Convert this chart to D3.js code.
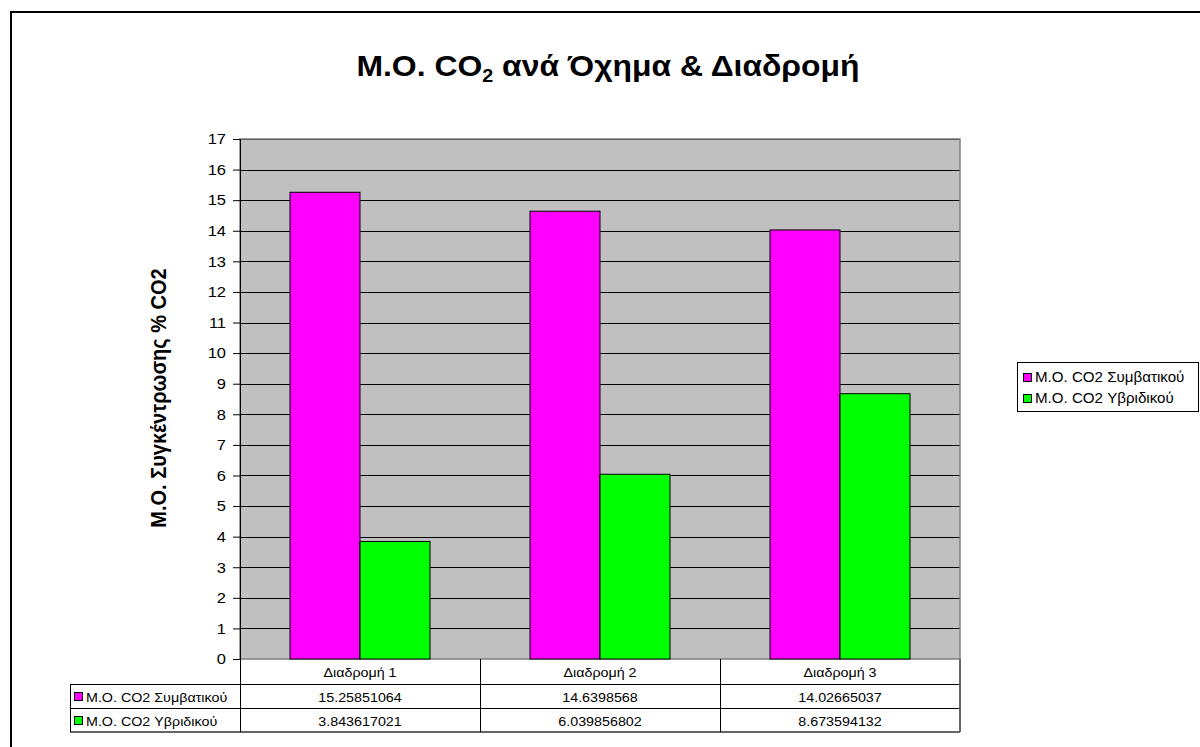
<!DOCTYPE html>
<html>
<head>
<meta charset="utf-8">
<script src="https://cdn.jsdelivr.net/npm/d3@7/dist/d3.min.js"></script>
<style>
html,body{margin:0;padding:0;background:#fff;}
svg{display:block;font-family:"Liberation Sans",Arial,sans-serif;}
</style>
</head>
<body>
<svg id="chart" width="1200" height="747"></svg>
<script>
const categories = ["Διαδρομή 1", "Διαδρομή 2", "Διαδρομή 3"];
const seriesNames = ["Μ.Ο. CO2 Συμβατικού", "Μ.Ο. CO2 Υβριδικού"];
const conventional = [15.25851064, 14.6398568, 14.02665037];
const hybrid = [3.843617021, 6.039856802, 8.673594132];
const conventionalLabels = ["15.25851064", "14.6398568", "14.02665037"];
const hybridLabels = ["3.843617021", "6.039856802", "8.673594132"];
const yTicks = [0,1,2,3,4,5,6,7,8,9,10,11,12,13,14,15,16,17];
const colors = ["#FF00FF", "#00FF00"];

const svg = d3.select("#chart");
const L = 240, R = 960, T = 139, B = 659;
const SX = 1.1; // horizontal text stretch seen in the reference

function stext(g, x, y, txt, size, anchor, bold, sx) {
  return g.append("text").attr("transform", `translate(${x},${y}) scale(${sx||SX},1)`)
    .attr("text-anchor", anchor||"start").attr("font-size", size)
    .attr("font-weight", bold ? "bold" : "normal").attr("fill", "#000").text(txt);
}

// outer chart border
svg.append("rect").attr("x",11).attr("y",12).attr("width",1200).attr("height",800)
  .attr("fill","none").attr("stroke","#000").attr("stroke-width",2);

// title
const title = svg.append("text").attr("transform","translate(608,76) scale(1.1,1)").attr("text-anchor","middle")
  .attr("font-size",29).attr("font-weight","bold").attr("fill","#000");
title.append("tspan").text("Μ.Ο. CO");
title.append("tspan").attr("font-size",18).attr("dy",6).text("2");
title.append("tspan").attr("dy",-6).text(" ανά Όχημα & Διαδρομή");

const x = d3.scaleBand().domain(categories).range([L,R]);
const y = d3.scaleLinear().domain([0,17]).range([B,T]);

// plot background
svg.append("rect").attr("x",L).attr("y",T).attr("width",R-L).attr("height",B-T).attr("fill","#C0C0C0");

// gridlines
svg.append("g").selectAll("line").data(yTicks.filter(d=>d>0)).join("line")
  .attr("x1",L).attr("x2",R).attr("y1",d=>Math.round(y(d))+0.5).attr("y2",d=>Math.round(y(d))+0.5)
  .attr("stroke","#000").attr("stroke-width",1);

// plot border
svg.append("rect").attr("x",L).attr("y",T).attr("width",R-L).attr("height",B-T)
  .attr("fill","none").attr("stroke","#808080").attr("stroke-width",1.5);

// bars
const barW = 70, gap = (x.bandwidth() - 2*barW)/2;
[conventional, hybrid].forEach((vals,si)=>{
  svg.append("g").selectAll("rect").data(vals).join("rect")
    .attr("x",(d,i)=>x(categories[i]) + gap + si*barW)
    .attr("y",d=>y(d)).attr("width",barW).attr("height",d=>y(0)-y(d))
    .attr("fill",colors[si]).attr("stroke","#000").attr("stroke-width",1);
});

// y axis
const yAxis = d3.axisLeft(y).tickValues(yTicks).tickSize(7).tickPadding(6).tickFormat(d3.format("d"));
const ga = svg.append("g").attr("transform",`translate(${L},0)`).call(yAxis);
ga.select(".domain").attr("stroke","#000");
ga.selectAll(".tick line").attr("stroke","#000");
ga.selectAll("text").attr("font-size",15).attr("fill","#000")
  .attr("font-family","Liberation Sans, Arial, sans-serif")
  .attr("x",0).attr("transform","translate(-14,0) scale(1.1,1)");

// y axis title
svg.append("text").attr("transform","translate(166,398) scale(1.1,1) rotate(-90)").attr("text-anchor","middle")
  .attr("font-size",20).attr("font-weight","bold").attr("fill","#000").text("Μ.Ο. Συγκέντρωσης % CO2");

// data table
const rowY = [B, 684, 708, 732];
const tbl = svg.append("g").attr("stroke","#000").attr("stroke-width",1).attr("shape-rendering","crispEdges");
[1,2].forEach(r=>tbl.append("line").attr("x1",70).attr("x2",R).attr("y1",rowY[r]).attr("y2",rowY[r]));
tbl.append("line").attr("x1",70).attr("x2",R).attr("y1",rowY[3]).attr("y2",rowY[3]).attr("stroke","#666").attr("stroke-width",2);
tbl.append("line").attr("x1",70).attr("x2",70).attr("y1",rowY[1]).attr("y2",rowY[3]);
categories.forEach(c=>tbl.append("line").attr("x1",x(c)).attr("x2",x(c)).attr("y1",B).attr("y2",rowY[3]));
tbl.append("line").attr("x1",R).attr("x2",R).attr("y1",B).attr("y2",rowY[3]).attr("stroke","#666").attr("stroke-width",2);

const tg = svg.append("g");
categories.forEach(c=>stext(tg, x(c)+x.bandwidth()/2, 677, c, 13, "middle"));
[conventionalLabels, hybridLabels].forEach((labs,si)=>{
  labs.forEach((d,i)=>stext(tg, x(categories[i])+x.bandwidth()/2, rowY[si+1]+18, d, 13, "middle"));
  tg.append("rect").attr("x",74.5).attr("y",rowY[si+1]+8.5).attr("width",8).attr("height",8)
    .attr("fill",colors[si]).attr("stroke","#000");
  stext(tg, 86, rowY[si+1]+18, seriesNames[si], 13, "start");
});

// legend
const lg = svg.append("g");
lg.append("rect").attr("x",1017.5).attr("y",362.5).attr("width",181).attr("height",49)
  .attr("fill","#fff").attr("stroke","#000");
seriesNames.forEach((n,i)=>{
  lg.append("rect").attr("x",1023.5).attr("y",373.5+i*21).attr("width",8).attr("height",8)
    .attr("fill",colors[i]).attr("stroke","#000");
  stext(lg, 1035, 382+i*21, n, 14, "start", false, 1.08);
});
</script>
</body>
</html>
